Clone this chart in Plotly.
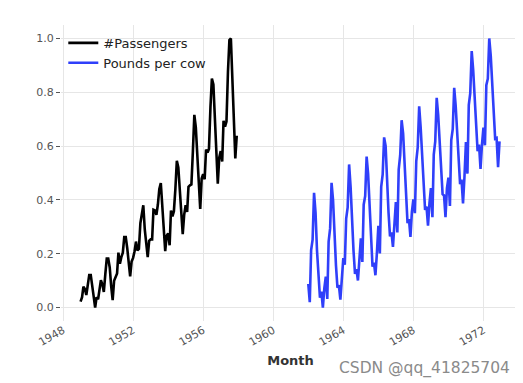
import pandas as pd
import numpy as np
import plotly.graph_objects as go

# Air passengers (monthly, 1949-01 .. 1957-12)
passengers = [
    112,118,132,129,121,135,148,148,136,119,104,118,
    115,126,141,135,125,149,170,170,158,133,114,140,
    145,150,178,163,172,178,199,199,184,162,146,166,
    171,180,193,181,183,218,230,242,209,191,172,194,
    196,196,236,235,229,243,264,272,237,211,180,201,
    204,188,235,227,234,264,302,293,259,229,203,229,
    242,233,267,269,270,315,364,347,312,274,237,278,
    284,277,317,313,318,374,413,405,355,306,271,306,
    315,301,356,348,355,422,465,467,404,347,305,336,
]
# Milk production, pounds per cow (monthly, 1962-01 .. 1972-12)
milk = [
    589,561,640,656,727,697,640,599,568,577,553,582,
    600,566,653,673,742,716,660,617,583,587,565,598,
    628,618,688,705,770,736,678,639,604,611,594,634,
    658,622,709,722,782,756,702,653,615,621,602,635,
    677,635,736,755,811,798,735,697,661,667,645,688,
    713,667,762,784,837,817,767,722,681,687,660,698,
    717,696,775,796,858,826,783,740,701,706,677,711,
    734,690,785,805,871,845,801,764,725,723,690,734,
    750,707,807,824,886,859,819,783,740,747,711,751,
    804,756,860,878,942,913,869,834,790,800,763,800,
    826,799,890,900,961,935,894,855,809,810,766,805,
]
series_names = ["#Passengers", "Pounds per cow"]
series_colors = ["#000000", "#2f3ffa"]
yticks = [0.0, 0.2, 0.4, 0.6, 0.8, 1.0]

def scale(v):
    a = np.array(v, dtype=float)
    return (a - a.min()) / (a.max() - a.min())

d1 = pd.date_range("1949-01-01", periods=len(passengers), freq="MS")
d2 = pd.date_range("1962-01-01", periods=len(milk), freq="MS")

fig = go.Figure()
fig.add_trace(go.Scatter(x=d1, y=scale(passengers), mode="lines", name=series_names[0],
                         line=dict(color=series_colors[0], width=2.6)))
fig.add_trace(go.Scatter(x=d2, y=scale(milk), mode="lines", name=series_names[1],
                         line=dict(color=series_colors[1], width=2.6)))

fig.update_layout(
    width=523, height=383,
    margin=dict(l=53, r=11, t=17, b=70),
    paper_bgcolor="white", plot_bgcolor="white",
    font=dict(family="DejaVu Sans", color="#444"),
    legend=dict(x=0.005, y=0.99, xanchor="left", yanchor="top",
                bgcolor="rgba(0,0,0,0)", font=dict(size=13, color="#222"),
                tracegroupgap=0),
    showlegend=True,
    xaxis=dict(
        type="date", range=["1947-11-20", "1974-02-01"],
        tick0="1948-01-01", dtick="M48", tickformat="%Y",
        tickangle=-30, tickfont=dict(size=11, color="#555"),
        showgrid=True, gridcolor="#e6e6e6", gridwidth=1,
        zeroline=False, showline=False, ticks="",
        title=dict(text="<b>Month</b>", font=dict(size=13, color="#333"), standoff=8),
    ),
    yaxis=dict(
        range=[-0.05, 1.05], tickvals=yticks,
        ticktext=[f"{v:.1f}" for v in yticks],
        tickfont=dict(size=11, color="#555"),
        showgrid=True, gridcolor="#e6e6e6", gridwidth=1,
        zeroline=False, showline=False,
        ticks="outside", ticklen=4, tickcolor="#555",
    ),
)
fig.add_annotation(text="CSDN @qq_41825704", xref="paper", yref="paper",
                   x=0.982, y=-0.16, xanchor="right", yanchor="middle",
                   showarrow=False, font=dict(size=15.5, color="#8a8a8a"))

fig.write_html("out.html")
